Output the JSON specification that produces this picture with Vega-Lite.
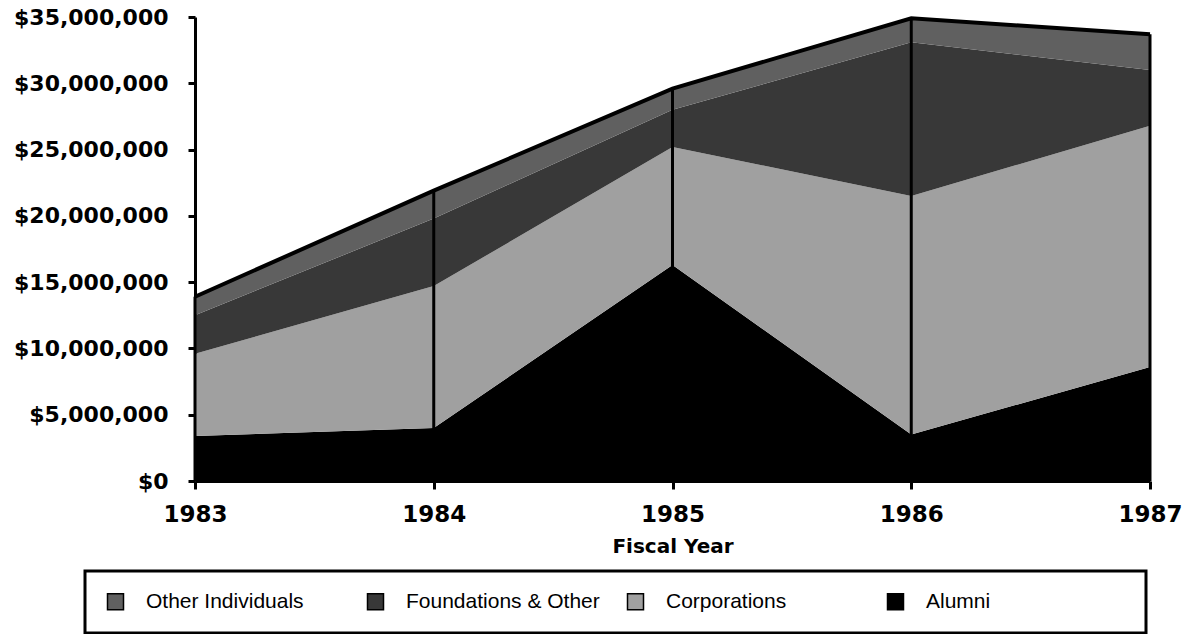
{
  "$schema": "https://vega.github.io/schema/vega-lite/v6.json",
  "width": 955,
  "height": 464,
  "autosize": {"type": "none"},
  "padding": {"left": 195, "top": 17, "right": 42, "bottom": 153},
  "background": "white",
  "config": {
    "view": {"stroke": null},
    "font": "DejaVu Sans",
    "legend": {"strokeWidth": 3}
  },
  "data": {
    "values": [
      {"year": 1983, "source": "Alumni", "amount": 3400000},
      {"year": 1983, "source": "Corporations", "amount": 6200000},
      {"year": 1983, "source": "Foundations & Other", "amount": 2900000},
      {"year": 1983, "source": "Other Individuals", "amount": 1400000},
      {"year": 1984, "source": "Alumni", "amount": 4000000},
      {"year": 1984, "source": "Corporations", "amount": 10700000},
      {"year": 1984, "source": "Foundations & Other", "amount": 5100000},
      {"year": 1984, "source": "Other Individuals", "amount": 2100000},
      {"year": 1985, "source": "Alumni", "amount": 16300000},
      {"year": 1985, "source": "Corporations", "amount": 8900000},
      {"year": 1985, "source": "Foundations & Other", "amount": 2800000},
      {"year": 1985, "source": "Other Individuals", "amount": 1600000},
      {"year": 1986, "source": "Alumni", "amount": 3500000},
      {"year": 1986, "source": "Corporations", "amount": 18000000},
      {"year": 1986, "source": "Foundations & Other", "amount": 11600000},
      {"year": 1986, "source": "Other Individuals", "amount": 1800000},
      {"year": 1987, "source": "Alumni", "amount": 8600000},
      {"year": 1987, "source": "Corporations", "amount": 18200000},
      {"year": 1987, "source": "Foundations & Other", "amount": 4200000},
      {"year": 1987, "source": "Other Individuals", "amount": 2700000}
    ]
  },
  "layer": [
    {
      "mark": {"type": "area", "interpolate": "linear", "opacity": 1},
      "encoding": {
        "x": {
          "field": "year", "type": "quantitative",
          "scale": {"domain": [1983, 1987], "nice": false, "zero": false},
          "axis": {
            "values": [1983, 1984, 1985, 1986, 1987], "format": "d",
            "title": "Fiscal  Year", "titleFont": "DejaVu Sans", "titleFontSize": 20, "titleFontWeight": "bold", "titleColor": "black", "titlePadding": 10,
            "labelFont": "DejaVu Sans", "labelFontSize": 23, "labelFontWeight": "bold", "labelColor": "black", "labelPadding": 14,
            "domainColor": "black", "domainWidth": 3, "tickColor": "black", "tickWidth": 3, "tickSize": 8, "grid": false, "labelFlush": false
          }
        },
        "y": {
          "field": "amount", "type": "quantitative", "stack": "zero",
          "scale": {"domain": [0, 35000000], "nice": false},
          "axis": {
            "values": [0, 5000000, 10000000, 15000000, 20000000, 25000000, 30000000, 35000000],
            "format": "$,.0f", "title": null,
            "labelFont": "DejaVu Sans", "labelFontSize": 22, "labelFontWeight": "bold", "labelColor": "black", "labelPadding": 20,
            "domainColor": "black", "domainWidth": 3, "tickColor": "black", "tickWidth": 3, "tickSize": 7, "grid": false
          }
        },
        "color": {
          "field": "source", "type": "nominal",
          "scale": {
            "domain": ["Other Individuals", "Foundations & Other", "Corporations", "Alumni"],
            "range": ["#606060", "#383838", "#a0a0a0", "#000000"]
          },
          "legend": {
            "title": null, "orient": "none", "legendX": -110, "legendY": 554,
            "direction": "horizontal", "columns": 4, "gridAlign": "all", "columnPadding": 18,
            "symbolType": "square", "symbolSize": 256, "symbolStrokeColor": "black", "symbolStrokeWidth": 1.5, "symbolOpacity": 1,
            "labelFont": "Liberation Sans", "labelFontSize": 21, "labelColor": "black", "labelOffset": 20, "labelLimit": 400,
            "labelExpr": "datum.label == 'Alumni' ? 'Alumni\u2800\u2800\u2800\u2800\u2800\u2800\u2800\u2800\u2800' : datum.label",
            "strokeColor": "black", "padding": 20, "fillColor": "white"
          }
        },
        "order": {"field": "source", "type": "nominal", "sort": "ascending"}
      }
    },
    {
      "transform": [{"aggregate": [{"op": "sum", "field": "amount", "as": "total"}], "groupby": ["year"]}],
      "mark": {"type": "line", "color": "black", "strokeWidth": 4},
      "encoding": {
        "x": {"field": "year", "type": "quantitative"},
        "y": {"field": "total", "type": "quantitative"}
      }
    },
    {
      "transform": [{"aggregate": [{"op": "sum", "field": "amount", "as": "total"}], "groupby": ["year"]}],
      "mark": {"type": "rule", "color": "black", "strokeWidth": 3},
      "encoding": {
        "x": {"field": "year", "type": "quantitative"},
        "y": {"field": "total", "type": "quantitative"},
        "y2": {"datum": 0}
      }
    }
  ]
}
